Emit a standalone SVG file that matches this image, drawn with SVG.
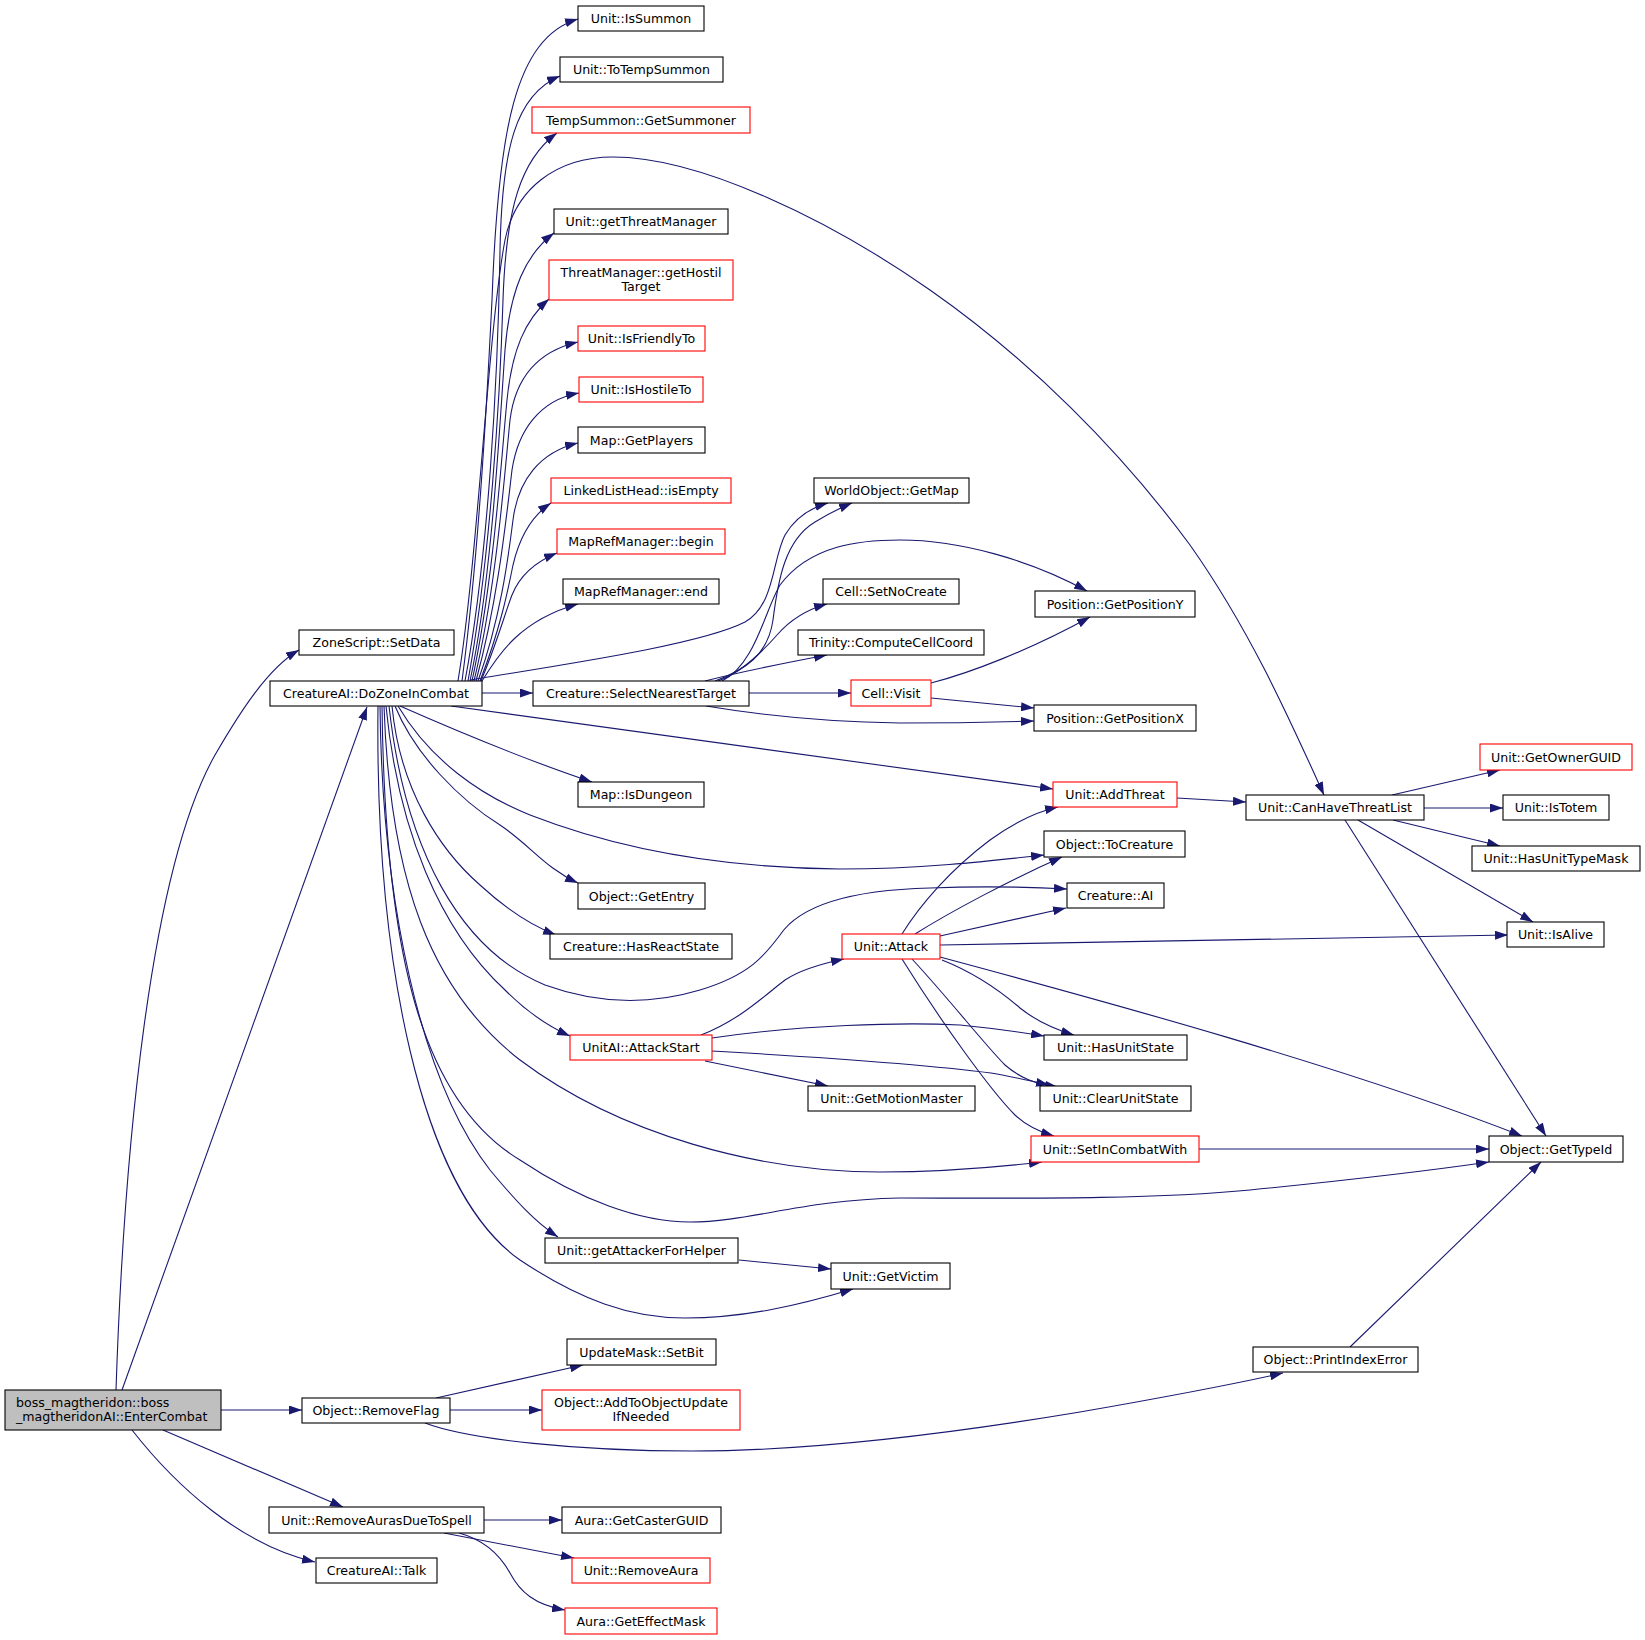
<svg xmlns="http://www.w3.org/2000/svg" width="1645" height="1640" viewBox="0 0 1645 1640">
<style>
.n rect{fill:#ffffff;stroke:#000000;stroke-width:1.1}
.r rect{fill:#ffffff;stroke:#ff0000;stroke-width:1.1}
.g rect{fill:#bfbfbf;stroke:#000000;stroke-width:1.1}
text{font-family:"DejaVu Sans","Liberation Sans",sans-serif;font-size:12.6px;fill:#000000;text-anchor:middle}
.l text{text-anchor:start}
#edges path{fill:none;stroke:#191970;stroke-width:1.1;marker-end:url(#a)}
</style>
<defs>
<marker id="a" markerUnits="userSpaceOnUse" markerWidth="13" markerHeight="9" viewBox="0 0 13 9" refX="13" refY="4.5" orient="auto"><path d="M0,0 L13,4.5 L0,9 z" fill="#191970"/></marker>
</defs>
<rect x="0" y="0" width="1645" height="1640" fill="#ffffff"/>
<g id="edges">
<path d="M116,1390 C124,1150 150,870 215,755 C240,712 268,668 299,650"/>
<path d="M122,1390 L367,707"/>
<path d="M221,1410 L302,1410"/>
<path d="M163,1430 L343,1507"/>
<path d="M132,1430 C175,1485 240,1545 315,1562"/>
<path d="M462,681 C478,560 486,420 492,300 C498,130 515,38 578,19"/>
<path d="M465,681 C488,560 498,380 500,250 C502,150 515,95 560,76"/>
<path d="M468,681 C490,560 500,400 503,300 C506,210 520,160 557,133"/>
<path d="M470,681 C492,580 500,420 505,350 C510,290 525,255 554,233"/>
<path d="M472,681 C494,580 502,450 507,400 C512,350 525,320 549,299"/>
<path d="M474,681 C496,590 504,480 510,420 C515,380 535,352 578,342"/>
<path d="M476,681 C498,600 506,520 512,470 C518,430 540,400 579,393"/>
<path d="M478,681 C500,620 508,560 513,520 C518,480 540,452 578,443"/>
<path d="M480,681 C500,630 508,590 513,565 C520,535 533,515 551,503"/>
<path d="M481,681 C498,640 506,610 512,595 C520,575 535,562 557,553"/>
<path d="M482,681 C498,655 520,620 578,604"/>
<path d="M458,681 C478,560 488,330 505,240 C515,190 555,157 613,157 C700,157 830,220 930,290 C1030,360 1120,450 1190,545 C1250,630 1290,720 1324,795"/>
<path d="M470,680 C560,665 700,645 745,622 C775,605 772,560 785,535 C795,518 810,508 828,503"/>
<path d="M482,693 L533,693"/>
<path d="M451,706 L1053,789"/>
<path d="M400,706 C450,728 520,758 592,782"/>
<path d="M398,706 C430,760 480,795 530,815 C620,850 720,868 840,869 C920,869 990,861 1044,855"/>
<path d="M395,706 C415,755 460,800 500,825 C530,845 545,868 578,883"/>
<path d="M392,706 C400,790 440,850 480,885 C505,908 530,925 556,935"/>
<path d="M389,706 C405,850 460,950 545,985 C600,1005 650,1005 700,990 C750,975 765,955 780,935 C800,905 850,890 930,888 C980,886 1030,887 1067,889"/>
<path d="M386,706 C398,830 440,930 505,990 C525,1010 545,1025 570,1036"/>
<path d="M384,706 C390,880 430,990 520,1060 C620,1135 760,1172 880,1172 C940,1172 990,1168 1042,1162"/>
<path d="M382,706 C385,950 420,1100 520,1160 C580,1200 640,1222 690,1222 C750,1222 800,1200 900,1198 C1000,1198 1150,1200 1250,1190 C1350,1180 1420,1172 1489,1162"/>
<path d="M380,706 C382,900 420,1080 490,1170 C515,1200 535,1222 558,1237"/>
<path d="M378,706 C375,960 420,1190 520,1260 C580,1300 630,1318 685,1318 C745,1318 800,1305 853,1289"/>
<path d="M715,681 C745,670 768,655 773,620 C778,580 785,540 815,522 C828,514 840,508 852,503"/>
<path d="M722,681 C755,665 765,610 780,585 C810,545 860,540 900,540 C960,540 1030,560 1087,591"/>
<path d="M718,681 C735,675 755,660 777,635 C790,620 805,610 827,604"/>
<path d="M705,681 C740,672 790,662 827,655"/>
<path d="M749,693 L851,693"/>
<path d="M706,706 C760,715 830,722 900,723 C950,723 1000,722 1034,721"/>
<path d="M931,683 C970,673 1030,650 1090,617"/>
<path d="M931,698 L1034,708"/>
<path d="M1177,798 L1246,802"/>
<path d="M1392,795 L1500,770"/>
<path d="M1424,808 L1503,808"/>
<path d="M1393,820 L1500,846"/>
<path d="M1358,820 L1533,922"/>
<path d="M1345,820 L1546,1136"/>
<path d="M902,934 C920,905 950,870 990,840 C1015,822 1035,812 1058,807"/>
<path d="M915,934 C950,912 1010,880 1062,857"/>
<path d="M940,936 L1066,908"/>
<path d="M940,945 L1508,935"/>
<path d="M940,957 C1100,1000 1350,1068 1522,1136"/>
<path d="M942,960 C980,975 1005,995 1020,1008 C1035,1020 1050,1028 1074,1035"/>
<path d="M912,959 C950,1000 985,1045 1005,1065 C1020,1078 1035,1084 1058,1087"/>
<path d="M902,959 C940,1020 990,1090 1015,1115 C1028,1127 1040,1132 1054,1136"/>
<path d="M701,1035 C740,1020 765,995 785,980 C800,970 820,964 844,959"/>
<path d="M712,1038 C800,1025 900,1022 960,1025 C990,1028 1020,1032 1044,1036"/>
<path d="M712,1051 C800,1056 930,1065 991,1073 C1015,1077 1030,1081 1049,1085"/>
<path d="M705,1061 L828,1086"/>
<path d="M1199,1149 L1489,1149"/>
<path d="M739,1260 L831,1269"/>
<path d="M436,1398 L583,1365"/>
<path d="M450,1410 L542,1410"/>
<path d="M425,1423 C470,1440 580,1451 692,1451 C820,1451 960,1432 1080,1412 C1160,1398 1230,1385 1283,1373"/>
<path d="M1350,1347 L1541,1162"/>
<path d="M484,1520 L562,1520"/>
<path d="M444,1533 L574,1558"/>
<path d="M459,1533 C485,1540 500,1555 510,1573 C520,1592 535,1605 565,1610"/>
</g>
<g id="boss" class="g l"><rect x="5" y="1390" width="216" height="40"/><text x="16" y="1407">boss_magtheridon::boss</text><text x="16" y="1420.5">_magtheridonAI::EnterCombat</text></g>
<g id="setdata" class="n"><rect x="299" y="630" width="155" height="25"/><text x="376.5" y="647">ZoneScript::SetData</text></g>
<g id="dozone" class="n"><rect x="270" y="681" width="212" height="25"/><text x="376" y="698">CreatureAI::DoZoneInCombat</text></g>
<g id="removeflag" class="n"><rect x="302" y="1398" width="148" height="25"/><text x="376" y="1415">Object::RemoveFlag</text></g>
<g id="removeauras" class="n"><rect x="269" y="1507" width="215" height="26"/><text x="376.5" y="1524.5">Unit::RemoveAurasDueToSpell</text></g>
<g id="talk" class="n"><rect x="316" y="1558" width="121" height="25"/><text x="376.5" y="1575">CreatureAI::Talk</text></g>
<g id="issummon" class="n"><rect x="578" y="6" width="126" height="25"/><text x="641" y="23">Unit::IsSummon</text></g>
<g id="totempsummon" class="n"><rect x="560" y="57" width="163" height="25"/><text x="641.5" y="74">Unit::ToTempSummon</text></g>
<g id="getsummoner" class="r"><rect x="532" y="107" width="218" height="26"/><text x="641" y="124.5">TempSummon::GetSummoner</text></g>
<g id="getthreatmanager" class="n"><rect x="554" y="209" width="174" height="25"/><text x="641" y="226">Unit::getThreatManager</text></g>
<g id="gethostiltarget" class="r"><rect x="549" y="260" width="184" height="40"/><text x="641" y="277">ThreatManager::getHostil</text><text x="641" y="291">Target</text></g>
<g id="isfriendlyto" class="r"><rect x="578" y="326" width="127" height="25"/><text x="641.5" y="343">Unit::IsFriendlyTo</text></g>
<g id="ishostileto" class="r"><rect x="579" y="377" width="124" height="25"/><text x="641" y="394">Unit::IsHostileTo</text></g>
<g id="getplayers" class="n"><rect x="578" y="427" width="127" height="26"/><text x="641.5" y="444.5">Map::GetPlayers</text></g>
<g id="isempty" class="r"><rect x="551" y="478" width="180" height="25"/><text x="641" y="495">LinkedListHead::isEmpty</text></g>
<g id="begin" class="r"><rect x="557" y="529" width="168" height="25"/><text x="641" y="546">MapRefManager::begin</text></g>
<g id="end" class="n"><rect x="563" y="579" width="156" height="25"/><text x="641" y="596">MapRefManager::end</text></g>
<g id="getmap" class="n"><rect x="814" y="478" width="155" height="25"/><text x="891.5" y="495">WorldObject::GetMap</text></g>
<g id="setnocreate" class="n"><rect x="823" y="579" width="136" height="25"/><text x="891" y="596">Cell::SetNoCreate</text></g>
<g id="posy" class="n"><rect x="1035" y="591" width="160" height="26"/><text x="1115" y="608.5">Position::GetPositionY</text></g>
<g id="computecell" class="n"><rect x="798" y="630" width="186" height="25"/><text x="891" y="647">Trinity::ComputeCellCoord</text></g>
<g id="selectnearest" class="n"><rect x="533" y="681" width="216" height="25"/><text x="641" y="698">Creature::SelectNearestTarget</text></g>
<g id="cellvisit" class="r"><rect x="851" y="680" width="80" height="26"/><text x="891" y="697.5">Cell::Visit</text></g>
<g id="posx" class="n"><rect x="1034" y="705" width="162" height="26"/><text x="1115" y="722.5">Position::GetPositionX</text></g>
<g id="getownerguid" class="r"><rect x="1480" y="744" width="152" height="26"/><text x="1556" y="761.5">Unit::GetOwnerGUID</text></g>
<g id="isdungeon" class="n"><rect x="578" y="782" width="126" height="25"/><text x="641" y="799">Map::IsDungeon</text></g>
<g id="addthreat" class="r"><rect x="1053" y="782" width="124" height="25"/><text x="1115" y="799">Unit::AddThreat</text></g>
<g id="canhavethreatlist" class="n"><rect x="1246" y="795" width="178" height="25"/><text x="1335" y="812">Unit::CanHaveThreatList</text></g>
<g id="istotem" class="n"><rect x="1503" y="795" width="106" height="25"/><text x="1556" y="812">Unit::IsTotem</text></g>
<g id="tocreature" class="n"><rect x="1044" y="831" width="141" height="26"/><text x="1114.5" y="848.5">Object::ToCreature</text></g>
<g id="hasunittypemask" class="n"><rect x="1472" y="846" width="168" height="25"/><text x="1556" y="863">Unit::HasUnitTypeMask</text></g>
<g id="getentry" class="n"><rect x="578" y="883" width="127" height="26"/><text x="641.5" y="900.5">Object::GetEntry</text></g>
<g id="creatureai" class="n"><rect x="1067" y="883" width="97" height="25"/><text x="1115.5" y="900">Creature::AI</text></g>
<g id="isalive" class="n"><rect x="1507" y="922" width="97" height="25"/><text x="1555.5" y="939">Unit::IsAlive</text></g>
<g id="hasreactstate" class="n"><rect x="550" y="934" width="182" height="25"/><text x="641" y="951">Creature::HasReactState</text></g>
<g id="attack" class="r"><rect x="842" y="934" width="98" height="25"/><text x="891" y="951">Unit::Attack</text></g>
<g id="attackstart" class="r"><rect x="570" y="1035" width="142" height="25"/><text x="641" y="1052">UnitAI::AttackStart</text></g>
<g id="hasunitstate" class="n"><rect x="1044" y="1035" width="143" height="25"/><text x="1115.5" y="1052">Unit::HasUnitState</text></g>
<g id="getmotionmaster" class="n"><rect x="808" y="1086" width="167" height="25"/><text x="891.5" y="1103">Unit::GetMotionMaster</text></g>
<g id="clearunitstate" class="n"><rect x="1040" y="1086" width="151" height="25"/><text x="1115.5" y="1103">Unit::ClearUnitState</text></g>
<g id="setincombatwith" class="r"><rect x="1031" y="1136" width="168" height="26"/><text x="1115" y="1153.5">Unit::SetInCombatWith</text></g>
<g id="gettypeid" class="n"><rect x="1489" y="1136" width="134" height="26"/><text x="1556" y="1153.5">Object::GetTypeId</text></g>
<g id="getattackerforhelper" class="n"><rect x="545" y="1238" width="193" height="25"/><text x="641.5" y="1255">Unit::getAttackerForHelper</text></g>
<g id="getvictim" class="n"><rect x="831" y="1263" width="119" height="26"/><text x="890.5" y="1280.5">Unit::GetVictim</text></g>
<g id="setbit" class="n"><rect x="567" y="1339" width="149" height="26"/><text x="641.5" y="1356.5">UpdateMask::SetBit</text></g>
<g id="addtoobjectupdate" class="r"><rect x="542" y="1390" width="198" height="40"/><text x="641" y="1407">Object::AddToObjectUpdate</text><text x="641" y="1420.5">IfNeeded</text></g>
<g id="printindexerror" class="n"><rect x="1253" y="1347" width="165" height="25"/><text x="1335.5" y="1364">Object::PrintIndexError</text></g>
<g id="getcasterguid" class="n"><rect x="562" y="1507" width="159" height="26"/><text x="641.5" y="1524.5">Aura::GetCasterGUID</text></g>
<g id="removeaura" class="r"><rect x="572" y="1558" width="138" height="25"/><text x="641" y="1575">Unit::RemoveAura</text></g>
<g id="geteffectmask" class="r"><rect x="565" y="1608" width="152" height="26"/><text x="641" y="1625.5">Aura::GetEffectMask</text></g>
</svg>
